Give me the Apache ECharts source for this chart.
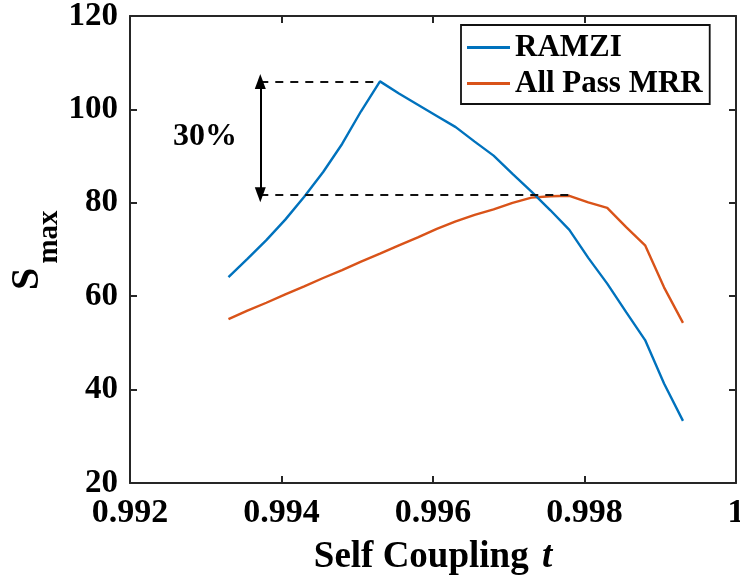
<!DOCTYPE html>
<html>
<head>
<meta charset="utf-8">
<script src="https://cdn.jsdelivr.net/npm/echarts@6/dist/echarts.min.js"></script>
<style>
  html, body { margin: 0; padding: 0; background: #fff; }
  #chart { width: 740px; height: 577px; }
</style>
</head>
<body>
<div id="chart"></div>
<script>
// self coupling t
var tValues = [0.99330, 0.99355, 0.99380, 0.99405, 0.99430, 0.99455, 0.99480, 0.99505, 0.99530,
               0.99555, 0.99580, 0.99605, 0.99630, 0.99655, 0.99680, 0.99705, 0.99730, 0.99755,
               0.99780, 0.99805, 0.99830, 0.99855, 0.99880, 0.99905, 0.99930];
// Smax
var ramzi = [64.1, 68.0, 72.0, 76.4, 81.3, 86.6, 92.6, 99.6, 106.0,
             103.4, 101.0, 98.6, 96.2, 93.1, 90.1, 86.2, 82.4, 78.4,
             74.2, 68.2, 62.7, 56.6, 50.6, 41.3, 33.3];
var allPass = [55.1, 56.9, 58.6, 60.4, 62.1, 63.9, 65.6, 67.4, 69.1,
               70.9, 72.6, 74.4, 76.0, 77.4, 78.6, 80.0, 81.1, 81.4,
               81.5, 80.1, 78.9, 74.8, 70.9, 61.9, 54.3];

// 30% annotation (data coords)
var peakLevel = 106.0;
var mrrLevel = 81.7;
var arrowT = 0.99372;
var peakT = 0.9953;
var mrrT = 0.99781;
var noteText = '30%';
var notePos = [0.99299, 94.1];

var serif = '"Liberation Serif", "DejaVu Serif", serif';
var axisColor = '#262626';

function pairs(xs, ys) {
  var out = [];
  for (var i = 0; i < xs.length; i++) out.push([xs[i], ys[i]]);
  return out;
}

var myChart = echarts.init(document.getElementById('chart'));

var dashed = { color: '#111', type: [8, 7], width: 2 };
var arrowLine = { type: 'solid', width: 2, color: '#000' };

var option = {
  animation: false,
  backgroundColor: '#fff',
  grid: { left: 130, right: 4, top: 16, bottom: 94, outerBoundsMode: 'none' },
  // y axis title S_max (rotated, with subscript)
  graphic: [
    { type: 'text', x: 28, y: 279, rotation: Math.PI / 2,
      style: { text: 'S', fontFamily: serif, fontWeight: 'bold', fontSize: 40, fill: '#000', align: 'center', verticalAlign: 'middle' } },
    { type: 'text', x: 50, y: 237, rotation: Math.PI / 2,
      style: { text: 'max', fontFamily: serif, fontWeight: 'bold', fontSize: 29, fill: '#000', align: 'center', verticalAlign: 'middle' } }
  ],
  legend: {
    orient: 'vertical',
    left: 461,
    top: 25,
    padding: [7, 7, 5, 6],
    itemGap: 5,
    itemWidth: 43,
    itemHeight: 3,
    borderColor: '#111',
    borderWidth: 1.8,
    textStyle: { fontFamily: serif, fontWeight: 'bold', fontSize: 31, color: '#000' },
    data: [{ name: 'RAMZI', icon: 'rect' }, { name: 'All Pass MRR', icon: 'rect' }]
  },
  xAxis: [{
    type: 'value',
    min: 0.992, max: 1, interval: 0.002,
    name: '{b|Self Coupling }{i|t}',
    nameLocation: 'middle',
    nameGap: 56,
    nameTextStyle: {
      rich: {
        b: { fontFamily: serif, fontWeight: 'bold', fontSize: 37, color: '#000' },
        i: { fontFamily: serif, fontWeight: 'bold', fontStyle: 'italic', fontSize: 37, color: '#000', padding: [0, 0, 0, 4] }
      }
    },
    axisLine: { onZero: false, lineStyle: { color: axisColor, width: 2 } },
    axisTick: { inside: true, length: 7, lineStyle: { color: axisColor, width: 2 } },
    axisLabel: {
      fontFamily: serif, fontWeight: 'bold', fontSize: 34, color: '#000', margin: 13,
      formatter: function (v) { return Math.abs(v - 1) < 1e-9 ? '1' : v.toFixed(3); }
    },
    splitLine: { show: false }
  }, {
    type: 'value', position: 'top',
    min: 0.992, max: 1, interval: 0.002,
    axisLine: { onZero: false, lineStyle: { color: axisColor, width: 2 } },
    axisTick: { inside: true, length: 7, lineStyle: { color: axisColor, width: 2 } },
    axisLabel: { show: false },
    splitLine: { show: false }
  }],
  yAxis: [{
    type: 'value',
    min: 20, max: 120, interval: 20,
    axisLine: { onZero: false, lineStyle: { color: axisColor, width: 2 } },
    axisTick: { inside: true, length: 7, lineStyle: { color: axisColor, width: 2 } },
    axisLabel: { fontFamily: serif, fontWeight: 'bold', fontSize: 33, color: '#000', margin: 12 },
    splitLine: { show: false }
  }, {
    type: 'value', position: 'right',
    min: 20, max: 120, interval: 20,
    axisLine: { onZero: false, lineStyle: { color: axisColor, width: 2 } },
    axisTick: { inside: true, length: 7, lineStyle: { color: axisColor, width: 2 } },
    axisLabel: { show: false },
    splitLine: { show: false }
  }],
  series: [{
    name: 'RAMZI',
    type: 'line',
    data: pairs(tValues, ramzi),
    symbol: 'none',
    color: '#0072BD',
    lineStyle: { width: 2.4, color: '#0072BD' },
    z: 3,
    markLine: {
      silent: true,
      symbol: 'none',
      label: { show: false },
      lineStyle: dashed,
      data: [
        [{ coord: [arrowT, peakLevel] }, { coord: [peakT, peakLevel] }],
        [{ coord: [arrowT, mrrLevel] }, { coord: [mrrT, mrrLevel] }],
        [
          { coord: [arrowT, peakLevel], symbol: 'triangle', symbolSize: [11, 15], lineStyle: arrowLine },
          { coord: [arrowT, mrrLevel], symbol: 'triangle', symbolSize: [11, 15], lineStyle: arrowLine }
        ]
      ]
    },
    markPoint: {
      silent: true,
      symbolSize: 0,
      data: [{ coord: notePos, value: noteText }],
      label: {
        show: true, position: 'inside', formatter: noteText,
        fontFamily: serif, fontWeight: 'bold', fontSize: 32, color: '#000'
      }
    }
  }, {
    name: 'All Pass MRR',
    type: 'line',
    data: pairs(tValues, allPass),
    symbol: 'none',
    color: '#D95319',
    lineStyle: { width: 2.4, color: '#D95319' },
    z: 2
  }]
};

myChart.setOption(option);
</script>
</body>
</html>
